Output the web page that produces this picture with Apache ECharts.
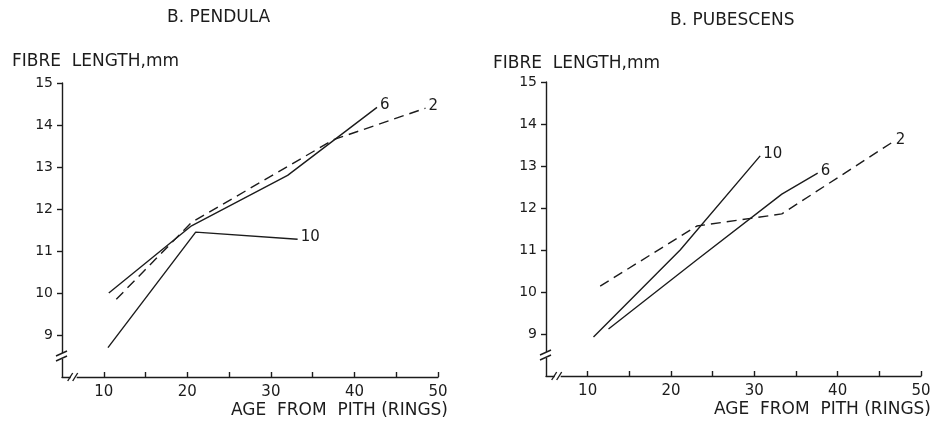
<!DOCTYPE html>
<html>
<head>
<meta charset="utf-8">
<script src="https://cdn.jsdelivr.net/npm/echarts@6/dist/echarts.min.js"></script>
<style>
  html, body { margin: 0; padding: 0; background: #fff; }
  #chart { width: 934px; height: 422px; }
</style>
</head>
<body>
<div id="chart"></div>
<script>
// Fibre length (mm) against age from pith (rings), sampled at three stem heights (2, 6, 10 m)
const panelTitles = ['B. PENDULA', 'B. PUBESCENS'];
const yName = 'FIBRE  LENGTH,mm';
const xName = 'AGE  FROM  PITH (RINGS)';
const xTickValues = [10, 15, 20, 25, 30, 35, 40, 45, 50];
const xLabelValues = [10, 20, 30, 40, 50];
const yTickValues = [9, 10, 11, 12, 13, 14, 15];

// B. pendula: [age, fibre length]
const pendula2 = [[11.5, 9.85], [20.5, 11.68], [37.5, 13.65], [48.5, 14.4]];
const pendula6 = [[10.6, 10.0], [20.5, 11.6], [32.0, 12.8], [42.7, 14.42]];
const pendula10 = [[10.5, 8.7], [21.0, 11.45], [33.2, 11.28]];

// B. pubescens: [age, fibre length]
const pubescens2 = [[11.5, 10.14], [23.1, 11.57], [33.3, 11.86], [46.6, 13.57]];
const pubescens6 = [[12.5, 9.12], [23.0, 10.75], [33.3, 12.33], [37.6, 12.83]];
const pubescens10 = [[10.7, 8.93], [21.1, 11.0], [30.7, 13.24]];

const INK = '#1c1c1c';
const FONT = 'DejaVu Sans';

const chart = echarts.init(document.getElementById('chart'), null, { renderer: 'canvas' });

const grids = [
  { left: 62, top: 83, width: 376, height: 294 },
  { left: 546, top: 82, width: 376, height: 294 }
];

function xAxisFor(i) {
  return {
    gridIndex: i, type: 'value', min: 5, max: 50,
    name: xName, nameLocation: 'end', nameGap: 10,
    nameTextStyle: { color: INK, fontSize: 17, fontFamily: FONT, align: 'right', verticalAlign: 'top', padding: [25, 0, 0, 0] },
    axisLine: { lineStyle: { color: INK, width: 1.4 } },
    axisTick: { inside: true, length: 5, customValues: xTickValues, lineStyle: { color: INK, width: 1.4 } },
    axisLabel: { customValues: xLabelValues, margin: 8, color: INK, fontSize: 15, fontFamily: FONT },
    splitLine: { show: false }
  };
}
function yAxisFor(i) {
  return {
    gridIndex: i, type: 'value', min: 8, max: 15,
    axisLine: { show: true, lineStyle: { color: INK, width: 1.4 } },
    axisTick: { show: true, length: 5, customValues: yTickValues, lineStyle: { color: INK, width: 1.4 } },
    axisLabel: { customValues: yTickValues, margin: 9, color: INK, fontSize: 14, fontFamily: FONT },
    splitLine: { show: false }
  };
}

function lineSeries(name, data, gi, dashed) {
  return {
    name: name, type: 'line', xAxisIndex: gi, yAxisIndex: gi,
    data: data, showSymbol: false, symbol: 'none', smooth: false,
    lineStyle: { color: INK, width: 1.4, type: dashed ? [10, 6] : 'solid' },
    endLabel: { show: true, formatter: '{a}', distance: 3, color: INK, fontSize: 15, fontFamily: FONT, offset: [0, -2] },
    emphasis: { disabled: true }
  };
}

const titleStyle = { color: INK, fontSize: 17, fontWeight: 'normal', fontFamily: FONT };

chart.setOption({
  animation: false,
  backgroundColor: '#ffffff',
  title: [
    { text: panelTitles[0], left: 167, top: 9, padding: 0, textStyle: titleStyle },
    { text: panelTitles[1], left: 670, top: 12, padding: 0, textStyle: titleStyle },
    { text: yName, left: 12, top: 53, padding: 0, textStyle: titleStyle },
    { text: yName, left: 493, top: 55, padding: 0, textStyle: titleStyle }
  ],
  grid: grids,
  xAxis: [xAxisFor(0), xAxisFor(1)],
  yAxis: [yAxisFor(0), yAxisFor(1)],
  series: [
    lineSeries('2', pendula2, 0, true),
    lineSeries('6', pendula6, 0, false),
    lineSeries('10', pendula10, 0, false),
    lineSeries('2', pubescens2, 1, true),
    lineSeries('6', pubescens6, 1, false),
    lineSeries('10', pubescens10, 1, false)
  ]
});

// Axis break marks ("//") near the origin of each panel
const breakX = 6.4;   // age value where the x axis is broken
const breakY = 8.5;   // length value where the y axis is broken
const graphics = [];
[0, 1].forEach(function (gi) {
  const o = chart.convertToPixel({ gridIndex: gi }, [5, 8]);
  const bx = chart.convertToPixel({ gridIndex: gi }, [breakX, 8]);
  const by = chart.convertToPixel({ gridIndex: gi }, [5, breakY]);
  // gap in x axis
  graphics.push({ type: 'rect', shape: { x: bx[0] - 3, y: o[1] - 3, width: 6, height: 6 }, style: { fill: '#fff' }, z: 100 });
  graphics.push({ type: 'line', shape: { x1: bx[0] - 6, y1: o[1] + 4, x2: bx[0] - 1, y2: o[1] - 4 }, style: { stroke: INK, lineWidth: 1.4 }, z: 101 });
  graphics.push({ type: 'line', shape: { x1: bx[0] - 1, y1: o[1] + 4, x2: bx[0] + 4, y2: o[1] - 4 }, style: { stroke: INK, lineWidth: 1.4 }, z: 101 });
  // gap in y axis
  graphics.push({ type: 'rect', shape: { x: o[0] - 3, y: by[1] - 3, width: 6, height: 6 }, style: { fill: '#fff' }, z: 100 });
  graphics.push({ type: 'line', shape: { x1: o[0] - 6, y1: by[1] - 0, x2: o[0] + 5, y2: by[1] - 5 }, style: { stroke: INK, lineWidth: 1.4 }, z: 101 });
  graphics.push({ type: 'line', shape: { x1: o[0] - 6, y1: by[1] + 5, x2: o[0] + 5, y2: by[1] + 0 }, style: { stroke: INK, lineWidth: 1.4 }, z: 101 });
});
chart.setOption({ graphic: graphics });
</script>
</body>
</html>
